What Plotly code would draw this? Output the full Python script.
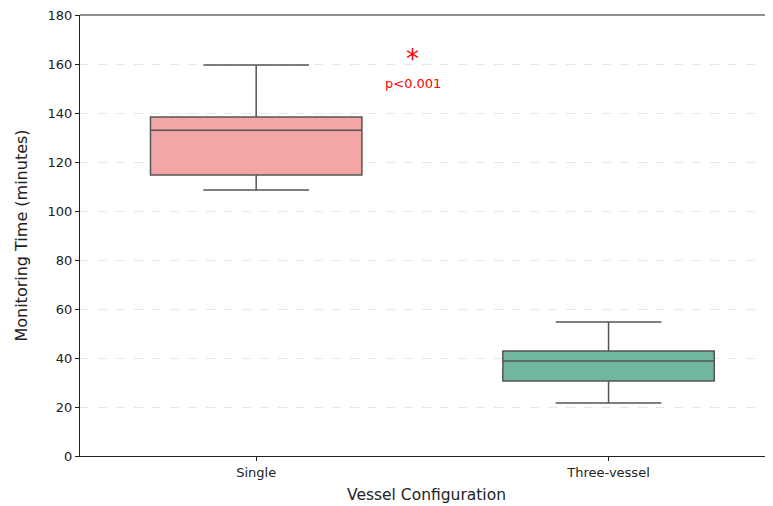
import plotly.graph_objects as go

categories = ["Single", "Three-vessel"]
q1 = [114.7, 30.6]
median = [133.0, 38.8]
q3 = [138.4, 42.9]
lower = [108.6, 21.6]
upper = [159.6, 54.7]
colors = ["#F2A6A6", "#71B7A0"]
yticks = [0, 20, 40, 60, 80, 100, 120, 140, 160, 180]

fig = go.Figure()
for i, cat in enumerate(categories):
    fig.add_trace(go.Box(
        x=[i], q1=[q1[i]], median=[median[i]], q3=[q3[i]],
        lowerfence=[lower[i]], upperfence=[upper[i]],
        name=cat, fillcolor=colors[i],
        line=dict(color="#555555", width=1.5),
        width=0.6, whiskerwidth=0.5, boxpoints=False,
        showlegend=False, hoverinfo="skip",
    ))

fig.add_annotation(x=0.445, y=162, text="*", showarrow=False,
                   font=dict(family="DejaVu Sans", size=26, color="red"),
                   xref="x", yref="y")
fig.add_annotation(x=0.445, y=152, text="p<0.001", showarrow=False,
                   font=dict(family="DejaVu Sans", size=13, color="red"),
                   xref="x", yref="y")
fig.add_shape(type="line", xref="paper", yref="paper", x0=0, x1=1, y0=1, y1=1,
              line=dict(color="#222222", width=1.2))

fig.update_layout(
    width=765, height=498,
    margin=dict(l=72, r=0, t=7, b=50, autoexpand=False),
    plot_bgcolor="white", paper_bgcolor="white",
    font=dict(family="DejaVu Sans", color="#222222"),
    xaxis=dict(
        range=[-0.5, 1.4667], tickvals=[0, 1], ticktext=categories,
        showline=True, linecolor="#222222", linewidth=1.2,
        ticks="outside", ticklen=4, tickcolor="#222222",
        tickfont=dict(size=13), showgrid=False, zeroline=False, automargin=False,
        ticklabeloverflow="allow",
        title=dict(text="Vessel Configuration", font=dict(size=15.5), standoff=10),
    ),
    yaxis=dict(
        range=[0, 180], tickvals=yticks,
        showline=True, linecolor="#222222", linewidth=1.2,
        ticks="outside", ticklen=4, tickcolor="#222222",
        tickfont=dict(size=13), showgrid=True, gridcolor="#e6e6e6",
        griddash="dash", gridwidth=1, zeroline=False, automargin=False,
        ticklabeloverflow="allow",
        title=dict(text="Monitoring Time (minutes)", font=dict(size=16), standoff=15),
    ),
)

fig.write_html("out.html")
